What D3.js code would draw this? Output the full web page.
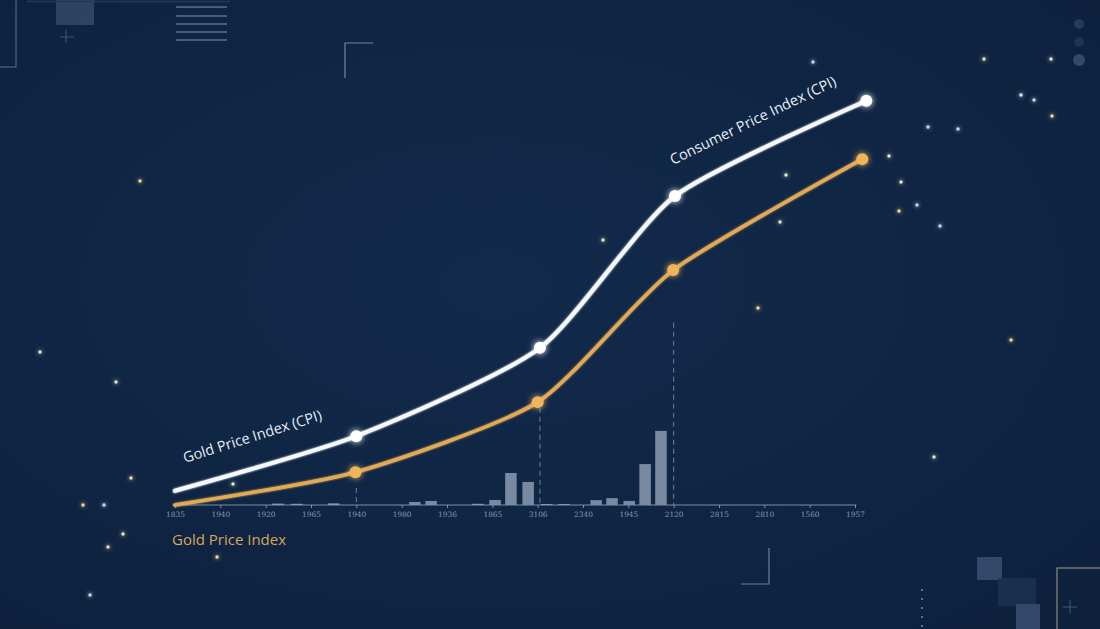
<!DOCTYPE html>
<html>
<head>
<meta charset="utf-8">
<script src="https://cdn.jsdelivr.net/npm/d3@7/dist/d3.min.js"></script>
<style>
  html, body { margin: 0; padding: 0; background: #0f2442; }
  svg { display: block; }
</style>
</head>
<body>
<svg id="chart" width="1100" height="629"></svg>
<script>
// ---------- DATA ----------
const tickLabels = ["1835","1940","1920","1965","1940","1980","1936","1865","3106","2340","1945","2120","2815","2810","1560","1957"];
// x positions in tick units, y values in index units
const cpiX   = [0, 4, 8.05, 11.03, 15.25];
const cpiY   = [3.5, 17, 38.8, 76.3, 99.8];
const goldX  = [0, 3.98, 8.0, 10.99, 15.16];
const goldY  = [0, 8.1, 25.4, 58, 85.4];
const barX   = [2.27, 2.69, 3.5, 5.29, 5.65, 6.68, 7.06, 7.41, 7.79, 8.2, 8.58, 9.29, 9.64, 10.02, 10.37, 10.72];
const barH   = [0.35, 0.3, 0.4, 0.75, 1.0, 0.3, 1.25, 7.9, 5.7, 0.25, 0.25, 1.2, 1.7, 1.0, 10.1, 18.3];
const dropX  = [4, 8.05, 11.0];
const dropTop= [4.2, 24, 45];
const labelCpi  = "Consumer Price Index (CPI)";
const labelGold = "Gold Price Index (CPI)";
const labelAxis = "Gold Price Index";

// ---------- SETUP ----------
const svg = d3.select("#chart");
const W = 1100, H = 629;
const x = d3.scaleLinear().domain([0, 15]).range([175, 855]);
const y = d3.scaleLinear().domain([0, 100]).range([505, 100]);

const defs = svg.append("defs");
const bg = defs.append("radialGradient").attr("id","bg").attr("cx","45%").attr("cy","45%").attr("r","75%");
bg.append("stop").attr("offset","0%").attr("stop-color","#122a4b");
bg.append("stop").attr("offset","100%").attr("stop-color","#0d213d");
function glow(id, std) {
  const f = defs.append("filter").attr("id", id).attr("x","-100%").attr("y","-100%").attr("width","300%").attr("height","300%");
  f.append("feGaussianBlur").attr("in","SourceGraphic").attr("stdDeviation", std).attr("result","b");
  const m = f.append("feMerge");
  m.append("feMergeNode").attr("in","b");
  m.append("feMergeNode").attr("in","SourceGraphic");
}
glow("glow", 3);
glow("glowS", 2);
glow("glowL", 1.2);

svg.append("rect").attr("width", W).attr("height", H).attr("fill", "url(#bg)");

// ---------- DECORATIONS ----------
const deco = svg.append("g");
deco.append("rect").attr("x",-2).attr("y",-2).attr("width",18).attr("height",69)
  .attr("fill","none").attr("stroke","#5d6f88").attr("stroke-width",1);
deco.append("rect").attr("x",56).attr("y",0).attr("width",38).attr("height",25).attr("fill","#3a4f6e").attr("opacity",0.75);
deco.append("path").attr("d","M60,37 H74 M66,30 V43").attr("stroke","#3f5574").attr("stroke-width",1);
deco.append("path").attr("d","M27,1.5 H230").attr("stroke","#24395a").attr("stroke-width",1.5);
[7,16,24,32,40].forEach(v => deco.append("line").attr("x1",176).attr("x2",227).attr("y1",v).attr("y2",v)
  .attr("stroke","#5d6f8a").attr("stroke-width",1.4));
deco.append("path").attr("d","M345,78 V43 H373").attr("fill","none").attr("stroke","#74849b").attr("stroke-width",1.2);
deco.append("path").attr("d","M741,584 H769 V548").attr("fill","none").attr("stroke","#6e7f98").attr("stroke-width",1.2);
for (let yy = 590; yy < 629; yy += 9) deco.append("circle").attr("cx",922).attr("cy",yy).attr("r",1).attr("fill","#7f90a8");
deco.append("rect").attr("x",977).attr("y",557).attr("width",25).attr("height",23).attr("fill","#34496a");
deco.append("rect").attr("x",998).attr("y",578).attr("width",38).attr("height",28).attr("fill","#1c3353").attr("opacity",0.8);
deco.append("rect").attr("x",1016).attr("y",604).attr("width",24).attr("height",26).attr("fill","#34496a");
deco.append("rect").attr("x",1057).attr("y",568).attr("width",50).attr("height",70)
  .attr("fill","none").attr("stroke","#8b8a7a").attr("stroke-width",1.2);
deco.append("path").attr("d","M1063,607 H1077 M1070,600 V614").attr("stroke","#40577a").attr("stroke-width",1);
deco.append("circle").attr("cx",1079).attr("cy",24).attr("r",5).attr("fill","#26395a");
deco.append("circle").attr("cx",1079).attr("cy",42).attr("r",5).attr("fill","#1e3252");
deco.append("circle").attr("cx",1079).attr("cy",60).attr("r",6).attr("fill","#34486a");

// stars
const stars = [
  [40,352,"#dfe6c8"],[116,382,"#dfe6c8"],[131,478,"#e8e0b0"],[104,505,"#c9d6ea"],[83,505,"#f2d88a"],
  [123,534,"#e8e6b0"],[108,547,"#e8e0b0"],[90,595,"#c9d6ea"],[217,557,"#f2d88a"],[233,484,"#dfe6c8"],
  [140,181,"#f2d88a"],[603,240,"#e8e6b0"],[758,308,"#f2d88a"],[786,175,"#dfe6c8"],[780,222,"#e8e0b0"],
  [1011,340,"#f2d88a"],[934,457,"#dfe6c8"],[984,59,"#e8e6b0"],[1051,59,"#dfe6c8"],[1021,95,"#dfe6f0"],
  [1034,100,"#c9d6ea"],[1052,116,"#f2d88a"],[928,127,"#c9d6ea"],[958,129,"#c9d6ea"],[889,156,"#e8e6c0"],
  [901,182,"#e8e6b0"],[899,211,"#f2d88a"],[917,205,"#c9d6ea"],[940,226,"#c9d6ea"],[813,62,"#c9d6ea"]
];
svg.append("g").selectAll("circle").data(stars).join("circle")
  .attr("cx", d => d[0]).attr("cy", d => d[1]).attr("r", 1.7)
  .attr("fill", d => d[2]).attr("filter","url(#glowS)");

// ---------- AXIS ----------
const axisG = svg.append("g").attr("transform", `translate(0,${y(0)})`);
axisG.call(d3.axisBottom(x).tickValues(d3.range(16)).tickFormat(i => tickLabels[i]).tickSize(3).tickPadding(4));
axisG.select(".domain").attr("stroke","#7d8ea8").attr("stroke-width",1.2).attr("d", `M${x(-0.05)},0H${x(15.03)}`);
axisG.selectAll(".tick line").attr("stroke","#7d8ea8");
axisG.selectAll(".tick text").attr("fill","#8797ae").attr("font-family","DejaVu Serif, serif").attr("font-size",7.4);

// dashed drop lines
svg.append("g").selectAll("line").data(dropX).join("line")
  .attr("x1", d => x(d)).attr("x2", d => x(d))
  .attr("y1", (d,i) => y(dropTop[i])).attr("y2", y(0))
  .attr("stroke","#6f819b").attr("stroke-width",1).attr("stroke-dasharray","5,4");

// bars
const bw = 11.5;
svg.append("g").selectAll("rect").data(barX).join("rect")
  .attr("x", d => x(d) - bw/2).attr("width", bw)
  .attr("y", (d,i) => y(barH[i])).attr("height", (d,i) => y(0) - y(barH[i]))
  .attr("fill", (d,i) => barH[i] < 0.5 ? "#8b9bb3" : "#7e8ea7").attr("opacity", 0.95);

// ---------- LINES ----------
const line = d3.line().x(d => x(d[0])).y(d => y(d[1])).curve(d3.curveCardinal.tension(0.35));
const cpi  = cpiX.map((v,i) => [v, cpiY[i]]);
const gold = goldX.map((v,i) => [v, goldY[i]]);

svg.append("path").datum(gold).attr("d", line).attr("fill","none")
  .attr("stroke","#e3aa57").attr("stroke-width",3.6).attr("stroke-linecap","round").attr("filter","url(#glowL)");
svg.append("path").datum(cpi).attr("d", line).attr("fill","none")
  .attr("stroke","#f5f8fc").attr("stroke-width",4.2).attr("stroke-linecap","round").attr("filter","url(#glowL)");

svg.append("g").selectAll("circle").data(gold.slice(1)).join("circle")
  .attr("cx", d => x(d[0])).attr("cy", d => y(d[1])).attr("r", 6)
  .attr("fill","#f0b45a").attr("filter","url(#glow)");
svg.append("g").selectAll("circle").data(cpi.slice(1)).join("circle")
  .attr("cx", d => x(d[0])).attr("cy", d => y(d[1])).attr("r", 6)
  .attr("fill","#ffffff").attr("filter","url(#glow)");

// ---------- LABELS ----------
svg.append("text").text(labelGold)
  .attr("transform","translate(185,463) rotate(-17.5)")
  .attr("font-family","Open Sans, sans-serif").attr("font-size",14.5).attr("fill","#e6edf6");
svg.append("text").text(labelCpi)
  .attr("transform","translate(673,165) rotate(-26)")
  .attr("font-family","Open Sans, sans-serif").attr("font-size",14.5).attr("fill","#e6edf6");
svg.append("text").text(labelAxis)
  .attr("x",172).attr("y",545)
  .attr("font-family","Open Sans, sans-serif").attr("font-size",15).attr("fill","#d7a659");
</script>
</body>
</html>
